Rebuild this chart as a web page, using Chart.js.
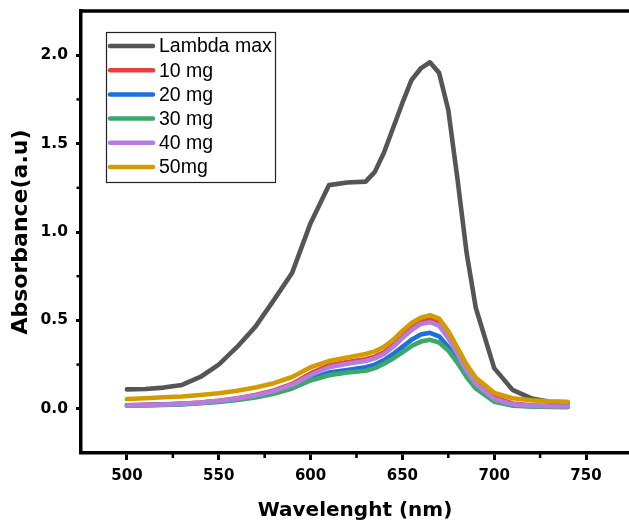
<!DOCTYPE html>
<html><head><meta charset="utf-8">
<script src="https://cdn.jsdelivr.net/npm/chart.js@4.4.0/dist/chart.umd.min.js"></script>
<style>
html,body{margin:0;padding:0;background:#fff;overflow:hidden;}
#c{display:block;}
</style></head><body>
<canvas id="c" width="629" height="525"></canvas>
<script>
const wavelengths=[500,510,520,530,540,550,560,570,580,590,600,610,620,630,635,640,645,650,655,660,665,670,675,680,685,690,700,710,720,730,740];
const lambdaMax=[0.11,0.112,0.12,0.135,0.18,0.25,0.35,0.465,0.615,0.77,1.05,1.265,1.28,1.285,1.34,1.45,1.59,1.73,1.86,1.925,1.96,1.90,1.69,1.30,0.88,0.57,0.23,0.107,0.06,0.04,0.035];
const mg10=[0.02,0.022,0.025,0.029,0.036,0.046,0.06,0.078,0.104,0.14,0.2,0.245,0.265,0.28,0.295,0.32,0.36,0.415,0.46,0.495,0.505,0.485,0.415,0.32,0.225,0.15,0.065,0.03,0.02,0.016,0.015];
const mg20=[0.02,0.021,0.023,0.027,0.033,0.042,0.054,0.07,0.092,0.125,0.17,0.205,0.22,0.235,0.25,0.275,0.31,0.35,0.39,0.42,0.43,0.41,0.35,0.275,0.195,0.125,0.045,0.02,0.015,0.012,0.01];
const mg30=[0.018,0.02,0.022,0.025,0.031,0.039,0.05,0.064,0.085,0.115,0.16,0.19,0.205,0.215,0.23,0.255,0.285,0.32,0.355,0.38,0.39,0.375,0.33,0.26,0.18,0.115,0.04,0.018,0.013,0.01,0.01];
const mg40=[0.019,0.021,0.024,0.028,0.035,0.045,0.058,0.075,0.1,0.135,0.19,0.235,0.255,0.27,0.285,0.31,0.35,0.40,0.445,0.48,0.49,0.47,0.40,0.31,0.215,0.14,0.055,0.025,0.018,0.014,0.013];
const mg50=[0.055,0.060,0.065,0.070,0.078,0.088,0.102,0.12,0.145,0.18,0.235,0.27,0.29,0.31,0.325,0.35,0.39,0.44,0.485,0.515,0.53,0.51,0.44,0.345,0.25,0.175,0.09,0.06,0.048,0.042,0.04];
const seriesLabels=['Lambda max','10 mg','20 mg','30 mg','40 mg','50mg'];
const seriesColors=['#555555','#e8403f','#1f6fd8','#39a86a','#b47ddf','#d39b00'];
const xTicks=[500,550,600,650,700,750];
const xMinor=[525,575,625,675,725];
const yTicks=[0.0,0.5,1.0,1.5,2.0];
const yMinor=[0.25,0.75,1.25,1.75];

const boldFont='"DejaVu Sans", "Liberation Sans", sans-serif';
const seriesValues=[lambdaMax,mg10,mg20,mg30,mg40,mg50];
const datasets=seriesValues.map((vals,i)=>({
  label:seriesLabels[i],
  data:vals.map((v,j)=>({x:wavelengths[j],y:v})),
  borderColor:seriesColors[i],
  backgroundColor:seriesColors[i],
  borderWidth:4.6,
  pointRadius:0,
  tension:0,
  borderCapStyle:'round',
  borderJoinStyle:'round',
  fill:false,
  order:6-i
}));

const framePlugin={
  id:'frame',
  afterDraw(chart){
    const ctx=chart.ctx, a=chart.chartArea;
    const xs=chart.scales.x, ys=chart.scales.y;
    ctx.save();
    ctx.strokeStyle='#000';
    ctx.lineWidth=3.5;
    ctx.beginPath();
    ctx.moveTo(a.left-1.75,a.top);ctx.lineTo(a.right+4,a.top);
    ctx.stroke();
    ctx.lineWidth=2.5;
    xMinor.forEach(v=>{const p=xs.getPixelForValue(v);ctx.beginPath();ctx.moveTo(p,a.bottom);ctx.lineTo(p,a.bottom+5);ctx.stroke();});
    yMinor.forEach(v=>{const p=ys.getPixelForValue(v);ctx.beginPath();ctx.moveTo(a.left,p);ctx.lineTo(a.left-4.5,p);ctx.stroke();});
    // legend
    const bx=a.left+25, by=a.top+21, bw=169, bh=150;
    ctx.lineWidth=1.2;ctx.strokeStyle='#222';
    ctx.strokeRect(bx+0.5,by+0.5,bw,bh);
    ctx.font='19.5px "Liberation Sans", Arial, sans-serif';
    ctx.textBaseline='middle';ctx.fillStyle='#000';
    chart.data.datasets.forEach((d,i)=>{
      const y=by+14+i*24.2;
      ctx.strokeStyle=d.borderColor;ctx.lineWidth=4.5;ctx.lineCap='round';
      ctx.beginPath();ctx.moveTo(bx+4,y);ctx.lineTo(bx+47,y);ctx.stroke();
      ctx.fillText(d.label,bx+53,y+1);
    });
    ctx.restore();
  }
};

new Chart(document.getElementById('c'),{
  type:'line',
  data:{datasets},
  options:{
    responsive:false,
    animation:false,
    layout:{padding:{left:0,top:11,right:0,bottom:0}},
    plugins:{legend:{display:false},tooltip:{enabled:false}},
    scales:{
      x:{
        type:'linear',min:475,max:773.4,
        afterBuildTicks(s){s.ticks=xTicks.map(v=>({value:v}));},
        afterFit(s){s.height=72;s.paddingLeft=0;s.paddingRight=0;},
        grid:{drawOnChartArea:false,drawTicks:true,tickLength:7,tickWidth:3,tickColor:'#000'},
        border:{display:true,color:'#000',width:3.5},
        ticks:{color:'#000',font:{family:boldFont,weight:'bold',size:15},padding:7,maxRotation:0,autoSkip:false,callback:v=>String(v)},
        title:{display:true,text:'Wavelenght (nm)',color:'#000',font:{family:boldFont,weight:'bold',size:20},padding:{top:8,bottom:2}}
      },
      y:{
        type:'linear',min:-0.25,max:2.25,
        afterBuildTicks(s){s.ticks=yTicks.map(v=>({value:v}));},
        afterFit(s){s.width=81;s.paddingTop=0;s.paddingBottom=0;},
        grid:{drawOnChartArea:false,drawTicks:true,tickLength:5,tickWidth:3,tickColor:'#000'},
        border:{display:true,color:'#000',width:3.5},
        ticks:{color:'#000',font:{family:boldFont,weight:'bold',size:15.5},padding:8,autoSkip:false,callback:v=>Number(v).toFixed(1)},
        title:{display:true,text:'Absorbance(a.u)',color:'#000',font:{family:boldFont,weight:'bold',size:22},padding:{top:8,bottom:0}}
      }
    }
  },
  plugins:[framePlugin]
});
</script>
</body></html>
